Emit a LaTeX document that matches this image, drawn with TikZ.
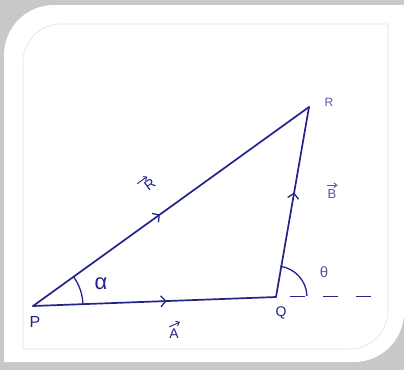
\documentclass[tikz,border=0pt]{standalone}
\usepackage{fontspec}
\setmainfont{Liberation Sans}
\usetikzlibrary{arrows.meta,decorations.markings,calc}
\definecolor{ink}{RGB}{35,35,140}
\definecolor{lightink}{RGB}{85,85,175}
\definecolor{framegray}{RGB}{200,200,200}
\definecolor{edgegray}{RGB}{225,225,225}
\tikzset{
  side/.style={draw=ink, line width=1.7pt, line cap=round},
  midarrow/.style={postaction={decorate}, decoration={markings,
     mark=at position #1 with {\arrow[ink,line width=1.3pt]{Straight Barb[length=5pt,width=11pt]}}}},
  anglearc/.style={draw=ink, line width=1.3pt},
  lab/.style={text=ink, inner sep=0pt},
  vecarrow/.style={line width=0.9pt, -{Straight Barb[length=3pt,width=5pt]}},
}
\begin{document}
\begin{tikzpicture}[x=1pt,y=1pt]
\useasboundingbox (0,0) rectangle (404,-370);
% frame
\fill[framegray] (0,0) rectangle (404,-370);
\fill[white] (4,-362) -- (4,-55) arc[start angle=180,end angle=90,radius=50] -- (404,-5)
  -- (404,-312) arc[start angle=0,end angle=-90,radius=50] -- cycle;
\draw[edgegray, line width=0.6pt, fill=white] (23,-349) -- (23,-62) arc[start angle=180,end angle=90,radius=38]
  -- (388,-24) -- (388,-311) arc[start angle=0,end angle=-90,radius=38] -- cycle;
% vertices
\coordinate (P) at (33,-306);
\coordinate (Q) at (276,-297);
\coordinate (R) at (309,-107);
% sides
\draw[side, midarrow=0.55] (P) -- (Q);
\draw[side, midarrow=0.55] (Q) -- (R);
\draw[side, midarrow=0.46] (P) -- (R);
% angle arcs
\draw[anglearc] ($(P)+(2:50)$) arc[start angle=2,end angle=36,radius=50];
\draw[anglearc] ($(Q)+(2:31)$) arc[start angle=2,end angle=82,radius=31];
% dashed extension
\coordinate (D) at (372,-296);
\draw[ink, line width=1pt, dash pattern=on 15pt off 18pt] ($(Q)+(14,1)$) -- (D);
% labels
\node[lab, font=\fontsize{16}{16}\selectfont] (lP) at (35,-322) {P};
\node[lab, font=\fontsize{14}{14}\selectfont] (lQ) at (281,-313) {Q};
\node[text=lightink, inner sep=0pt, font=\fontsize{12}{12}\selectfont] (lR) at (329,-102) {R};
\node[lab, font=\fontsize{22}{22}\selectfont] (la) at (101,-284) {α};
\node[text=lightink, inner sep=0pt, font=\fontsize{15}{15}\selectfont] (lt) at (324,-272) {θ};
% vector labels
\node[lab, rotate=36, inner xsep=0pt, inner ysep=3.5pt, font=\fontsize{14}{14}\selectfont] (vR) at (150,-185) {R};
\draw[vecarrow, ink] ($(vR.north west)!-0.4!(vR.north east)$) -- ($(vR.north west)!0.75!(vR.north east)$);
\node[text=lightink, inner sep=0pt, font=\fontsize{13}{13}\selectfont] (vB) at (332,-194) {B};
\draw[vecarrow, lightink] ($(vB.north west)+(0,4)$) -- ($(vB.north east)+(1,4)$);
\node[lab, font=\fontsize{14}{14}\selectfont] (vA) at (174,-334) {A};
\draw[vecarrow, ink] ($(vA.north west)+(0,2)$) -- ($(vA.north east)+(1,7)$);
\end{tikzpicture}
\end{document}
